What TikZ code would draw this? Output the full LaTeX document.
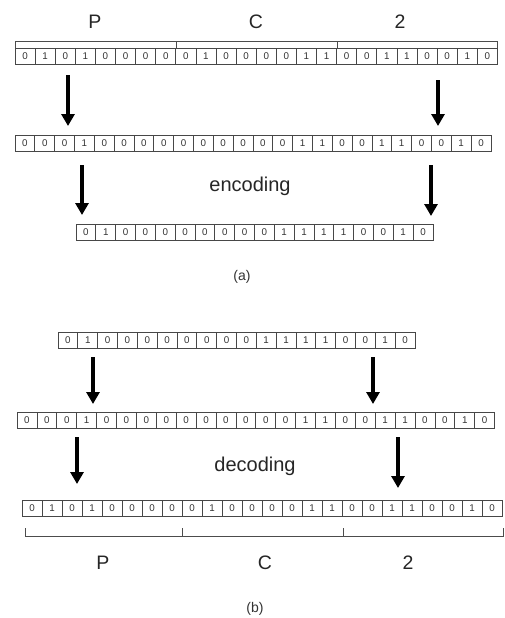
\documentclass[tikz,border=0pt]{standalone}
\usepackage{fontspec}
\setmainfont{Liberation Sans}
\usetikzlibrary{arrows.meta}

% one row of bit cells: name, left x, centre y, cell width, bits
\newcommand\bitrow[5]{%
  \foreach \b [count=\i from 0] in {#5} {
    \node[cell, minimum width=#4pt] (#1-\i) at ({#2+(\i+0.5)*#4}, #3) {\b};
  }}

\tikzset{
  cell/.style={draw=black!72, line width=0.8pt, minimum height=16pt,
    inner sep=0pt, text=black!80, font=\fontsize{9.8}{9.8}\selectfont},
  bigarrow/.style={line width=4pt, -{Triangle[width=13pt,length=12pt]}},
  bracket/.style={draw=black!70, line width=0.9pt},
  seglabel/.style={font=\fontsize{19.5}{19.5}\selectfont, text=black!85},
  steplabel/.style={font=\fontsize{20}{20}\selectfont, text=black!85},
  caption/.style={font=\fontsize{14}{14}\selectfont, text=black!80},
}

\begin{document}
\begin{tikzpicture}[x=1pt, y=-1pt]
\useasboundingbox (0,0) rectangle (505,618);
\fill[white] (0,0) rectangle (505,618);

% ---------------- (a) encoding ----------------
\node[seglabel] (tP) at (95,22) {P};
\node[seglabel] (tC) at (256,22) {C};
\node[seglabel] (t2) at (400,22) {2};

\coordinate (ta) at (15,48);  \coordinate (tb) at (176,48);
\coordinate (tc) at (337,48); \coordinate (td) at (497,48);
\draw[bracket] (ta) -- ++(0,-7) -| (tb) ++(0,-7) -| (tc) ++(0,-7) -| (td);
\draw[bracket] (tb) -- ++(0,-7);
\draw[bracket] (tc) -- ++(0,-7);

\bitrow{ra}{15}{56}{20.1}{0,1,0,1,0,0,0,0,0,1,0,0,0,0,1,1,0,0,1,1,0,0,1,0}
\bitrow{rb}{15}{143}{19.83}{0,0,0,1,0,0,0,0,0,0,0,0,0,0,1,1,0,0,1,1,0,0,1,0}
\bitrow{rc}{76}{232}{19.83}{0,1,0,0,0,0,0,0,0,0,1,1,1,1,0,0,1,0}

\coordinate (a1s) at (68,75);  \coordinate (a1e) at (68,126);
\coordinate (a2s) at (438,80); \coordinate (a2e) at (438,126);
\coordinate (a3s) at (82,165); \coordinate (a3e) at (82,215);
\coordinate (a4s) at (431,165); \coordinate (a4e) at (431,216);
\draw[bigarrow] (a1s) -- (a1e);
\draw[bigarrow] (a2s) -- (a2e);
\draw[bigarrow] (a3s) -- (a3e);
\draw[bigarrow] (a4s) -- (a4e);

\node[steplabel] (enc) at (250,186) {encoding};
\node[caption] (capa) at (242,277) {(a)};

% ---------------- (b) decoding ----------------
\bitrow{rd}{58}{340}{19.83}{0,1,0,0,0,0,0,0,0,0,1,1,1,1,0,0,1,0}
\bitrow{re}{17}{420}{19.9}{0,0,0,1,0,0,0,0,0,0,0,0,0,0,1,1,0,0,1,1,0,0,1,0}
\bitrow{rf}{22}{508}{20}{0,1,0,1,0,0,0,0,0,1,0,0,0,0,1,1,0,0,1,1,0,0,1,0}

\coordinate (a5s) at (93,357);  \coordinate (a5e) at (93,404);
\coordinate (a6s) at (373,357); \coordinate (a6e) at (373,404);
\coordinate (a7s) at (77,437);  \coordinate (a7e) at (77,484);
\coordinate (a8s) at (398,437); \coordinate (a8e) at (398,488);
\draw[bigarrow] (a5s) -- (a5e);
\draw[bigarrow] (a6s) -- (a6e);
\draw[bigarrow] (a7s) -- (a7e);
\draw[bigarrow] (a8s) -- (a8e);

\node[steplabel] (dec) at (255,466) {decoding};

\coordinate (ba) at (25,528);  \coordinate (bb) at (182,528);
\coordinate (bc) at (343,528); \coordinate (bd) at (503,528);
\draw[bracket] (ba) -- ++(0,8) -| (bb) ++(0,8) -| (bc) ++(0,8) -| (bd);
\draw[bracket] (bb) -- ++(0,8);
\draw[bracket] (bc) -- ++(0,8);

\node[seglabel] (bP) at (103,563) {P};
\node[seglabel] (bC) at (265,563) {C};
\node[seglabel] (b2) at (408,563) {2};

\node[caption] (capb) at (255,609) {(b)};
\end{tikzpicture}
\end{document}
